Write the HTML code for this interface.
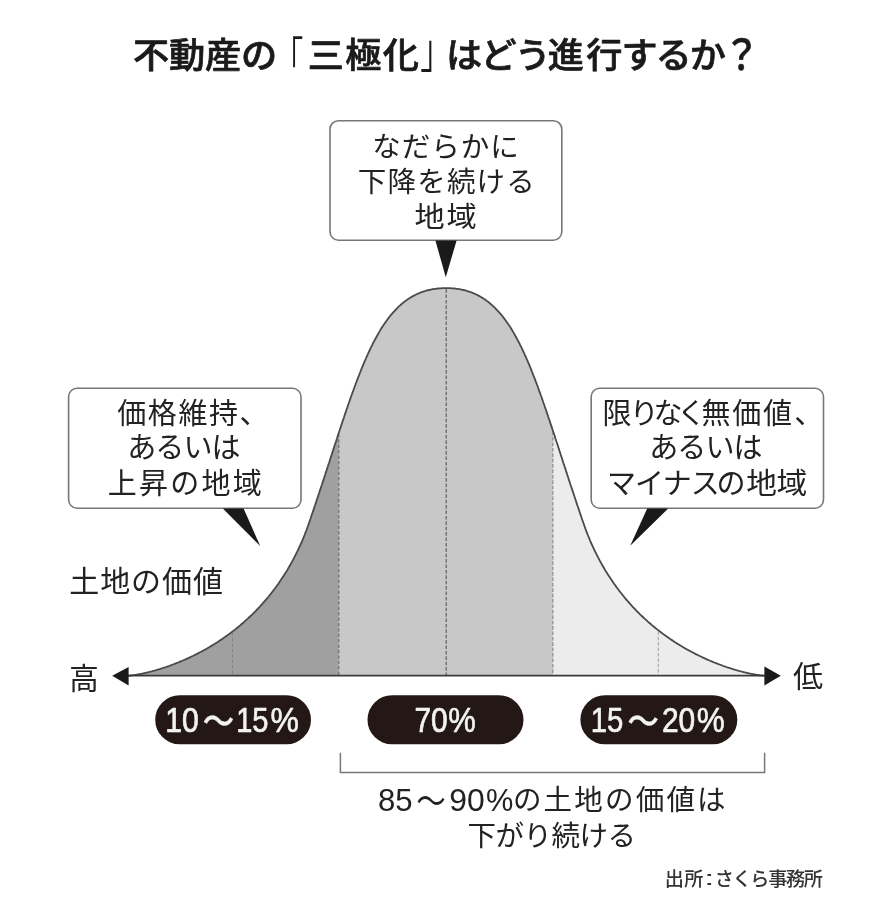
<!DOCTYPE html>
<html lang="ja">
<head>
<meta charset="utf-8">
<title>不動産の「三極化」はどう進行するか？</title>
<style>
html,body{margin:0;padding:0;background:#fff;}
body{width:887px;height:906px;overflow:hidden;}
svg{display:block;}
svg text{font-family:'Liberation Sans','Noto Sans CJK JP',sans-serif;white-space:pre;}
</style>
</head>
<body>
<svg width="887" height="906" viewBox="0 0 887 906">
<rect width="887" height="906" fill="#fff"/>
<g id="art" style="filter:blur(0.55px)">
<polygon points="128.0,675.7 128.2,675.7 128.3,675.7 128.5,675.7 128.8,675.7 129.0,675.7 129.2,675.6 129.5,675.6 129.8,675.6 130.1,675.6 130.4,675.5 130.7,675.5 131.1,675.5 131.4,675.4 131.8,675.4 132.2,675.3 132.6,675.3 133.0,675.2 133.5,675.2 133.9,675.1 134.4,675.0 134.9,675.0 135.4,674.9 135.9,674.8 136.4,674.7 136.9,674.6 137.5,674.5 138.0,674.4 138.6,674.3 139.2,674.2 139.8,674.1 140.4,674.0 141.0,673.8 141.7,673.7 142.3,673.6 143.0,673.4 143.7,673.3 144.4,673.1 145.1,673.0 145.8,672.8 146.5,672.6 147.3,672.4 148.0,672.3 148.8,672.1 149.5,671.9 150.3,671.7 151.1,671.5 151.9,671.3 152.7,671.0 153.5,670.8 154.4,670.6 155.2,670.4 156.1,670.1 156.9,669.9 157.8,669.6 158.7,669.3 159.6,669.1 160.5,668.8 161.4,668.5 162.3,668.2 163.2,667.9 164.2,667.6 165.1,667.3 166.1,667.0 167.0,666.6 168.0,666.3 169.0,666.0 170.0,665.6 170.9,665.2 171.9,664.9 172.9,664.5 174.0,664.1 175.0,663.7 176.0,663.3 177.0,662.9 178.1,662.5 179.1,662.1 180.2,661.6 181.2,661.2 182.3,660.8 183.4,660.3 184.4,659.8 185.5,659.4 186.6,658.9 187.7,658.4 188.8,657.9 189.9,657.4 191.0,656.8 192.1,656.3 193.2,655.8 194.3,655.2 195.5,654.7 196.6,654.1 197.7,653.5 198.8,652.9 200.0,652.3 201.1,651.7 202.3,651.1 203.4,650.5 204.6,649.9 205.7,649.2 206.9,648.6 208.0,647.9 209.2,647.2 210.3,646.5 211.5,645.8 212.7,645.1 213.8,644.4 215.0,643.7 216.2,642.9 217.4,642.2 218.5,641.4 219.7,640.6 220.9,639.9 222.1,639.1 223.2,638.3 224.4,637.4 225.6,636.6 226.8,635.8 227.9,634.9 229.1,634.1 230.3,633.2 231.5,632.3 232.6,631.4 233.8,630.5 235.0,629.6 236.2,628.6 237.3,627.7 238.5,626.7 239.7,625.8 240.8,624.8 242.0,623.8 243.2,622.8 244.3,621.8 245.5,620.7 246.6,619.7 247.8,618.6 248.9,617.5 250.1,616.5 251.2,615.4 252.4,614.3 253.5,613.1 254.7,612.0 255.8,610.9 256.9,609.7 258.0,608.5 259.2,607.3 260.3,606.1 261.4,604.9 262.5,603.7 263.6,602.4 264.7,601.2 265.8,599.9 266.9,598.6 268.0,597.3 269.0,596.0 270.1,594.7 271.2,593.3 272.2,592.0 273.3,590.6 274.3,589.2 275.4,587.8 276.4,586.4 277.4,585.0 278.5,583.6 279.5,582.1 280.5,580.6 281.5,579.1 282.5,577.6 283.5,576.1 284.5,574.6 285.4,573.0 286.4,571.5 287.4,569.9 288.3,568.3 289.2,566.7 290.2,565.1 291.1,563.4 292.0,561.8 292.9,560.1 293.8,558.4 294.7,556.7 295.6,555.0 296.4,553.2 297.3,551.5 298.2,549.7 299.0,547.9 299.8,546.1 300.6,544.3 301.5,542.5 302.3,540.6 303.0,538.8 303.8,536.9 304.6,535.0 305.3,533.1 306.1,531.1 306.8,529.2 307.5,527.2 308.2,525.2 308.9,523.2 309.7,521.0 310.5,518.8 311.2,516.6 311.9,514.4 312.7,512.2 313.4,510.1 314.1,507.9 314.9,505.7 315.6,503.6 316.3,501.5 317.0,499.3 317.7,497.2 318.4,495.1 319.1,493.0 319.8,490.9 320.5,488.9 321.2,486.8 321.9,484.7 322.5,482.7 323.2,480.6 323.9,478.6 324.5,476.6 325.2,474.6 325.8,472.6 326.5,470.6 327.1,468.6 327.8,466.6 328.4,464.6 329.1,462.7 329.7,460.7 330.3,458.8 330.9,456.9 331.6,455.0 332.2,453.1 332.8,451.2 333.4,449.3 334.0,447.4 334.6,445.5 335.2,443.7 335.9,441.8 336.5,440.0 337.1,438.2 337.6,436.3 338.2,434.5 338.8,432.8 338.8,675.7 128.0,675.7" fill="#a0a0a0"/>
<polygon points="338.8,432.8 338.8,432.7 339.4,431.0 340.0,429.2 340.6,427.4 341.2,425.6 341.8,423.9 342.3,422.2 342.9,420.4 343.5,418.7 344.1,417.0 344.6,415.3 345.2,413.6 345.8,411.9 346.3,410.3 346.9,408.6 347.5,407.0 348.0,405.3 348.6,403.7 349.2,402.1 349.7,400.5 350.3,398.9 350.8,397.3 351.4,395.7 351.9,394.2 352.5,392.6 353.1,391.1 353.6,389.6 354.2,388.0 354.7,386.5 355.3,385.0 355.8,383.5 356.4,382.1 356.9,380.6 357.5,379.1 358.1,377.7 358.6,376.3 359.2,374.8 359.7,373.4 360.3,372.0 360.8,370.6 361.4,369.2 361.9,367.9 362.5,366.5 363.1,365.2 363.6,363.8 364.2,362.5 364.7,361.2 365.3,359.9 365.9,358.6 366.4,357.3 367.0,356.0 367.6,354.8 368.1,353.5 368.7,352.3 369.3,351.0 369.8,349.8 370.4,348.6 371.0,347.4 371.6,346.2 372.2,345.1 372.7,343.9 373.3,342.7 373.9,341.6 374.5,340.5 375.1,339.4 375.7,338.3 376.3,337.2 376.9,336.1 377.5,335.0 378.1,334.0 378.7,332.9 379.3,331.9 379.9,330.9 380.5,329.8 381.1,328.8 381.7,327.8 382.4,326.9 383.0,325.9 383.6,324.9 384.3,324.0 384.9,323.1 385.5,322.2 386.2,321.2 386.8,320.4 387.5,319.5 388.1,318.6 388.8,317.7 389.4,316.9 390.1,316.0 390.8,315.2 391.4,314.4 392.1,313.6 392.8,312.8 393.5,312.0 394.2,311.3 394.9,310.5 395.6,309.8 396.3,309.0 397.0,308.3 397.7,307.6 398.4,306.9 399.1,306.3 399.9,305.6 400.6,304.9 401.3,304.3 402.1,303.7 402.8,303.0 403.6,302.4 404.3,301.8 405.1,301.2 405.9,300.7 406.6,300.1 407.4,299.6 408.2,299.0 409.0,298.5 409.8,298.0 410.6,297.5 411.4,297.0 412.2,296.6 413.0,296.1 413.9,295.6 414.7,295.2 415.5,294.8 416.4,294.4 417.2,294.0 418.1,293.6 419.0,293.2 419.8,292.9 420.7,292.5 421.6,292.2 422.5,291.9 423.4,291.6 424.3,291.3 425.2,291.0 426.1,290.7 427.1,290.5 428.0,290.2 429.0,290.0 429.9,289.8 430.9,289.6 431.8,289.4 432.8,289.2 433.8,289.1 434.8,288.9 435.8,288.8 436.8,288.6 437.8,288.5 438.8,288.4 439.8,288.3 440.9,288.3 441.9,288.2 443.0,288.2 444.0,288.1 445.1,288.1 446.2,288.1 447.3,288.1 448.4,288.1 449.4,288.2 450.5,288.2 451.5,288.3 452.6,288.3 453.6,288.4 454.6,288.5 455.6,288.6 456.6,288.8 457.6,288.9 458.6,289.1 459.6,289.2 460.6,289.4 461.5,289.6 462.5,289.8 463.4,290.0 464.4,290.2 465.3,290.5 466.3,290.7 467.2,291.0 468.1,291.3 469.0,291.6 469.9,291.9 470.8,292.2 471.7,292.5 472.6,292.9 473.4,293.2 474.3,293.6 475.2,294.0 476.0,294.4 476.9,294.8 477.7,295.2 478.5,295.6 479.4,296.1 480.2,296.6 481.0,297.0 481.8,297.5 482.6,298.0 483.4,298.5 484.2,299.0 485.0,299.6 485.8,300.1 486.5,300.7 487.3,301.2 488.1,301.8 488.8,302.4 489.6,303.0 490.3,303.7 491.1,304.3 491.8,304.9 492.5,305.6 493.3,306.3 494.0,306.9 494.7,307.6 495.4,308.3 496.1,309.0 496.8,309.8 497.5,310.5 498.2,311.3 498.9,312.0 499.6,312.8 500.3,313.6 501.0,314.4 501.6,315.2 502.3,316.0 503.0,316.9 503.6,317.7 504.3,318.6 504.9,319.5 505.6,320.4 506.2,321.2 506.9,322.2 507.5,323.1 508.1,324.0 508.8,324.9 509.4,325.9 510.0,326.9 510.7,327.8 511.3,328.8 511.9,329.8 512.5,330.9 513.1,331.9 513.7,332.9 514.3,334.0 514.9,335.0 515.5,336.1 516.1,337.2 516.7,338.3 517.3,339.4 517.9,340.5 518.5,341.6 519.1,342.7 519.7,343.9 520.2,345.1 520.8,346.2 521.4,347.4 522.0,348.6 522.6,349.8 523.1,351.0 523.7,352.3 524.3,353.5 524.8,354.8 525.4,356.0 526.0,357.3 526.5,358.6 527.1,359.9 527.7,361.2 528.2,362.5 528.8,363.8 529.3,365.2 529.9,366.5 530.5,367.9 531.0,369.2 531.6,370.6 532.1,372.0 532.7,373.4 533.2,374.8 533.8,376.3 534.3,377.7 534.9,379.1 535.5,380.6 536.0,382.1 536.6,383.5 537.1,385.0 537.7,386.5 538.2,388.0 538.8,389.6 539.3,391.1 539.9,392.6 540.5,394.2 541.0,395.7 541.6,397.3 542.1,398.9 542.7,400.5 543.2,402.1 543.8,403.7 544.4,405.3 544.9,407.0 545.5,408.6 546.1,410.3 546.6,411.9 547.2,413.6 547.8,415.3 548.3,417.0 548.9,418.7 549.5,420.4 550.1,422.2 550.6,423.9 551.2,425.6 551.8,427.4 552.4,429.2 552.9,430.7 552.9,675.7 338.8,675.7" fill="#c8c8c9"/>
<polygon points="552.9,430.7 553.0,431.0 553.6,432.7 554.2,434.5 554.8,436.3 555.3,438.2 555.9,440.0 556.5,441.8 557.2,443.7 557.8,445.5 558.4,447.4 559.0,449.3 559.6,451.2 560.2,453.1 560.8,455.0 561.5,456.9 562.1,458.8 562.7,460.7 563.3,462.7 564.0,464.6 564.6,466.6 565.3,468.6 565.9,470.6 566.6,472.6 567.2,474.6 567.9,476.6 568.5,478.6 569.2,480.6 569.9,482.7 570.5,484.7 571.2,486.8 571.9,488.9 572.6,490.9 573.3,493.0 574.0,495.1 574.7,497.2 575.4,499.3 576.1,501.5 576.8,503.6 577.5,505.7 578.3,507.9 579.0,510.1 579.7,512.2 580.5,514.4 581.2,516.6 581.9,518.8 582.7,521.0 583.5,523.2 584.2,525.2 584.9,527.2 585.6,529.2 586.3,531.1 587.1,533.1 587.8,535.0 588.6,536.9 589.4,538.8 590.1,540.6 590.9,542.5 591.8,544.3 592.6,546.1 593.4,547.9 594.2,549.7 595.1,551.5 596.0,553.2 596.8,555.0 597.7,556.7 598.6,558.4 599.5,560.1 600.4,561.8 601.3,563.4 602.2,565.1 603.2,566.7 604.1,568.3 605.0,569.9 606.0,571.5 607.0,573.0 607.9,574.6 608.9,576.1 609.9,577.6 610.9,579.1 611.9,580.6 612.9,582.1 613.9,583.6 615.0,585.0 616.0,586.4 617.0,587.8 618.1,589.2 619.1,590.6 620.2,592.0 621.2,593.3 622.3,594.7 623.4,596.0 624.4,597.3 625.5,598.6 626.6,599.9 627.7,601.2 628.8,602.4 629.9,603.7 631.0,604.9 632.1,606.1 633.2,607.3 634.4,608.5 635.5,609.7 636.6,610.9 637.7,612.0 638.9,613.1 640.0,614.3 641.2,615.4 642.3,616.5 643.5,617.5 644.6,618.6 645.8,619.7 646.9,620.7 648.1,621.8 649.2,622.8 650.4,623.8 651.6,624.8 652.7,625.8 653.9,626.7 655.1,627.7 656.2,628.6 657.4,629.6 658.6,630.5 659.8,631.4 660.9,632.3 662.1,633.2 663.3,634.1 664.5,634.9 665.6,635.8 666.8,636.6 668.0,637.4 669.2,638.3 670.3,639.1 671.5,639.9 672.7,640.6 673.9,641.4 675.0,642.2 676.2,642.9 677.4,643.7 678.6,644.4 679.7,645.1 680.9,645.8 682.1,646.5 683.2,647.2 684.4,647.9 685.5,648.6 686.7,649.2 687.8,649.9 689.0,650.5 690.1,651.1 691.3,651.7 692.4,652.3 693.6,652.9 694.7,653.5 695.8,654.1 696.9,654.7 698.1,655.2 699.2,655.8 700.3,656.3 701.4,656.8 702.5,657.4 703.6,657.9 704.7,658.4 705.8,658.9 706.9,659.4 708.0,659.8 709.0,660.3 710.1,660.8 711.2,661.2 712.2,661.6 713.3,662.1 714.3,662.5 715.4,662.9 716.4,663.3 717.4,663.7 718.4,664.1 719.5,664.5 720.5,664.9 721.5,665.2 722.4,665.6 723.4,666.0 724.4,666.3 725.4,666.6 726.3,667.0 727.3,667.3 728.2,667.6 729.2,667.9 730.1,668.2 731.0,668.5 731.9,668.8 732.8,669.1 733.7,669.3 734.6,669.6 735.5,669.9 736.3,670.1 737.2,670.4 738.0,670.6 738.9,670.8 739.7,671.0 740.5,671.3 741.3,671.5 742.1,671.7 742.9,671.9 743.6,672.1 744.4,672.3 745.1,672.4 745.9,672.6 746.6,672.8 747.3,673.0 748.0,673.1 748.7,673.3 749.4,673.4 750.1,673.6 750.7,673.7 751.4,673.8 752.0,674.0 752.6,674.1 753.2,674.2 753.8,674.3 754.4,674.4 754.9,674.5 755.5,674.6 756.0,674.7 756.5,674.8 757.0,674.9 757.5,675.0 758.0,675.0 758.5,675.1 758.9,675.2 759.4,675.2 759.8,675.3 760.2,675.3 760.6,675.4 761.0,675.4 761.3,675.5 761.7,675.5 762.0,675.5 762.3,675.6 762.6,675.6 762.9,675.6 763.2,675.6 763.4,675.7 763.6,675.7 763.9,675.7 764.1,675.7 764.2,675.7 764.4,675.7 764.4,675.7 552.9,675.7" fill="#ececec"/>
<line x1="232.5" y1="632.5" x2="232.5" y2="675.7" stroke="#858585" stroke-width="1.15" stroke-dasharray="3.6 1.8"/>
<line x1="338.8" y1="433.8" x2="338.8" y2="675.7" stroke="#6a6a6a" stroke-width="1.15" stroke-dasharray="3.6 1.8"/>
<line x1="446.2" y1="289.1" x2="446.2" y2="675.7" stroke="#5a5a5a" stroke-width="1.15" stroke-dasharray="3.6 1.8"/>
<line x1="552.9" y1="431.7" x2="552.9" y2="675.7" stroke="#8a8a8a" stroke-width="1.15" stroke-dasharray="3.6 1.8"/>
<line x1="658.3" y1="631.3" x2="658.3" y2="675.7" stroke="#a8a8a8" stroke-width="1.15" stroke-dasharray="3.6 1.8"/>
<polyline points="128.0,675.7 128.2,675.7 128.3,675.7 128.5,675.7 128.8,675.7 129.0,675.7 129.2,675.6 129.5,675.6 129.8,675.6 130.1,675.6 130.4,675.5 130.7,675.5 131.1,675.5 131.4,675.4 131.8,675.4 132.2,675.3 132.6,675.3 133.0,675.2 133.5,675.2 133.9,675.1 134.4,675.0 134.9,675.0 135.4,674.9 135.9,674.8 136.4,674.7 136.9,674.6 137.5,674.5 138.0,674.4 138.6,674.3 139.2,674.2 139.8,674.1 140.4,674.0 141.0,673.8 141.7,673.7 142.3,673.6 143.0,673.4 143.7,673.3 144.4,673.1 145.1,673.0 145.8,672.8 146.5,672.6 147.3,672.4 148.0,672.3 148.8,672.1 149.5,671.9 150.3,671.7 151.1,671.5 151.9,671.3 152.7,671.0 153.5,670.8 154.4,670.6 155.2,670.4 156.1,670.1 156.9,669.9 157.8,669.6 158.7,669.3 159.6,669.1 160.5,668.8 161.4,668.5 162.3,668.2 163.2,667.9 164.2,667.6 165.1,667.3 166.1,667.0 167.0,666.6 168.0,666.3 169.0,666.0 170.0,665.6 170.9,665.2 171.9,664.9 172.9,664.5 174.0,664.1 175.0,663.7 176.0,663.3 177.0,662.9 178.1,662.5 179.1,662.1 180.2,661.6 181.2,661.2 182.3,660.8 183.4,660.3 184.4,659.8 185.5,659.4 186.6,658.9 187.7,658.4 188.8,657.9 189.9,657.4 191.0,656.8 192.1,656.3 193.2,655.8 194.3,655.2 195.5,654.7 196.6,654.1 197.7,653.5 198.8,652.9 200.0,652.3 201.1,651.7 202.3,651.1 203.4,650.5 204.6,649.9 205.7,649.2 206.9,648.6 208.0,647.9 209.2,647.2 210.3,646.5 211.5,645.8 212.7,645.1 213.8,644.4 215.0,643.7 216.2,642.9 217.4,642.2 218.5,641.4 219.7,640.6 220.9,639.9 222.1,639.1 223.2,638.3 224.4,637.4 225.6,636.6 226.8,635.8 227.9,634.9 229.1,634.1 230.3,633.2 231.5,632.3 232.6,631.4 233.8,630.5 235.0,629.6 236.2,628.6 237.3,627.7 238.5,626.7 239.7,625.8 240.8,624.8 242.0,623.8 243.2,622.8 244.3,621.8 245.5,620.7 246.6,619.7 247.8,618.6 248.9,617.5 250.1,616.5 251.2,615.4 252.4,614.3 253.5,613.1 254.7,612.0 255.8,610.9 256.9,609.7 258.0,608.5 259.2,607.3 260.3,606.1 261.4,604.9 262.5,603.7 263.6,602.4 264.7,601.2 265.8,599.9 266.9,598.6 268.0,597.3 269.0,596.0 270.1,594.7 271.2,593.3 272.2,592.0 273.3,590.6 274.3,589.2 275.4,587.8 276.4,586.4 277.4,585.0 278.5,583.6 279.5,582.1 280.5,580.6 281.5,579.1 282.5,577.6 283.5,576.1 284.5,574.6 285.4,573.0 286.4,571.5 287.4,569.9 288.3,568.3 289.2,566.7 290.2,565.1 291.1,563.4 292.0,561.8 292.9,560.1 293.8,558.4 294.7,556.7 295.6,555.0 296.4,553.2 297.3,551.5 298.2,549.7 299.0,547.9 299.8,546.1 300.6,544.3 301.5,542.5 302.3,540.6 303.0,538.8 303.8,536.9 304.6,535.0 305.3,533.1 306.1,531.1 306.8,529.2 307.5,527.2 308.2,525.2 308.9,523.2 309.7,521.0 310.5,518.8 311.2,516.6 311.9,514.4 312.7,512.2 313.4,510.1 314.1,507.9 314.9,505.7 315.6,503.6 316.3,501.5 317.0,499.3 317.7,497.2 318.4,495.1 319.1,493.0 319.8,490.9 320.5,488.9 321.2,486.8 321.9,484.7 322.5,482.7 323.2,480.6 323.9,478.6 324.5,476.6 325.2,474.6 325.8,472.6 326.5,470.6 327.1,468.6 327.8,466.6 328.4,464.6 329.1,462.7 329.7,460.7 330.3,458.8 330.9,456.9 331.6,455.0 332.2,453.1 332.8,451.2 333.4,449.3 334.0,447.4 334.6,445.5 335.2,443.7 335.9,441.8 336.5,440.0 337.1,438.2 337.6,436.3 338.2,434.5 338.8,432.7 339.4,431.0 340.0,429.2 340.6,427.4 341.2,425.6 341.8,423.9 342.3,422.2 342.9,420.4 343.5,418.7 344.1,417.0 344.6,415.3 345.2,413.6 345.8,411.9 346.3,410.3 346.9,408.6 347.5,407.0 348.0,405.3 348.6,403.7 349.2,402.1 349.7,400.5 350.3,398.9 350.8,397.3 351.4,395.7 351.9,394.2 352.5,392.6 353.1,391.1 353.6,389.6 354.2,388.0 354.7,386.5 355.3,385.0 355.8,383.5 356.4,382.1 356.9,380.6 357.5,379.1 358.1,377.7 358.6,376.3 359.2,374.8 359.7,373.4 360.3,372.0 360.8,370.6 361.4,369.2 361.9,367.9 362.5,366.5 363.1,365.2 363.6,363.8 364.2,362.5 364.7,361.2 365.3,359.9 365.9,358.6 366.4,357.3 367.0,356.0 367.6,354.8 368.1,353.5 368.7,352.3 369.3,351.0 369.8,349.8 370.4,348.6 371.0,347.4 371.6,346.2 372.2,345.1 372.7,343.9 373.3,342.7 373.9,341.6 374.5,340.5 375.1,339.4 375.7,338.3 376.3,337.2 376.9,336.1 377.5,335.0 378.1,334.0 378.7,332.9 379.3,331.9 379.9,330.9 380.5,329.8 381.1,328.8 381.7,327.8 382.4,326.9 383.0,325.9 383.6,324.9 384.3,324.0 384.9,323.1 385.5,322.2 386.2,321.2 386.8,320.4 387.5,319.5 388.1,318.6 388.8,317.7 389.4,316.9 390.1,316.0 390.8,315.2 391.4,314.4 392.1,313.6 392.8,312.8 393.5,312.0 394.2,311.3 394.9,310.5 395.6,309.8 396.3,309.0 397.0,308.3 397.7,307.6 398.4,306.9 399.1,306.3 399.9,305.6 400.6,304.9 401.3,304.3 402.1,303.7 402.8,303.0 403.6,302.4 404.3,301.8 405.1,301.2 405.9,300.7 406.6,300.1 407.4,299.6 408.2,299.0 409.0,298.5 409.8,298.0 410.6,297.5 411.4,297.0 412.2,296.6 413.0,296.1 413.9,295.6 414.7,295.2 415.5,294.8 416.4,294.4 417.2,294.0 418.1,293.6 419.0,293.2 419.8,292.9 420.7,292.5 421.6,292.2 422.5,291.9 423.4,291.6 424.3,291.3 425.2,291.0 426.1,290.7 427.1,290.5 428.0,290.2 429.0,290.0 429.9,289.8 430.9,289.6 431.8,289.4 432.8,289.2 433.8,289.1 434.8,288.9 435.8,288.8 436.8,288.6 437.8,288.5 438.8,288.4 439.8,288.3 440.9,288.3 441.9,288.2 443.0,288.2 444.0,288.1 445.1,288.1 446.2,288.1 447.3,288.1 448.4,288.1 449.4,288.2 450.5,288.2 451.5,288.3 452.6,288.3 453.6,288.4 454.6,288.5 455.6,288.6 456.6,288.8 457.6,288.9 458.6,289.1 459.6,289.2 460.6,289.4 461.5,289.6 462.5,289.8 463.4,290.0 464.4,290.2 465.3,290.5 466.3,290.7 467.2,291.0 468.1,291.3 469.0,291.6 469.9,291.9 470.8,292.2 471.7,292.5 472.6,292.9 473.4,293.2 474.3,293.6 475.2,294.0 476.0,294.4 476.9,294.8 477.7,295.2 478.5,295.6 479.4,296.1 480.2,296.6 481.0,297.0 481.8,297.5 482.6,298.0 483.4,298.5 484.2,299.0 485.0,299.6 485.8,300.1 486.5,300.7 487.3,301.2 488.1,301.8 488.8,302.4 489.6,303.0 490.3,303.7 491.1,304.3 491.8,304.9 492.5,305.6 493.3,306.3 494.0,306.9 494.7,307.6 495.4,308.3 496.1,309.0 496.8,309.8 497.5,310.5 498.2,311.3 498.9,312.0 499.6,312.8 500.3,313.6 501.0,314.4 501.6,315.2 502.3,316.0 503.0,316.9 503.6,317.7 504.3,318.6 504.9,319.5 505.6,320.4 506.2,321.2 506.9,322.2 507.5,323.1 508.1,324.0 508.8,324.9 509.4,325.9 510.0,326.9 510.7,327.8 511.3,328.8 511.9,329.8 512.5,330.9 513.1,331.9 513.7,332.9 514.3,334.0 514.9,335.0 515.5,336.1 516.1,337.2 516.7,338.3 517.3,339.4 517.9,340.5 518.5,341.6 519.1,342.7 519.7,343.9 520.2,345.1 520.8,346.2 521.4,347.4 522.0,348.6 522.6,349.8 523.1,351.0 523.7,352.3 524.3,353.5 524.8,354.8 525.4,356.0 526.0,357.3 526.5,358.6 527.1,359.9 527.7,361.2 528.2,362.5 528.8,363.8 529.3,365.2 529.9,366.5 530.5,367.9 531.0,369.2 531.6,370.6 532.1,372.0 532.7,373.4 533.2,374.8 533.8,376.3 534.3,377.7 534.9,379.1 535.5,380.6 536.0,382.1 536.6,383.5 537.1,385.0 537.7,386.5 538.2,388.0 538.8,389.6 539.3,391.1 539.9,392.6 540.5,394.2 541.0,395.7 541.6,397.3 542.1,398.9 542.7,400.5 543.2,402.1 543.8,403.7 544.4,405.3 544.9,407.0 545.5,408.6 546.1,410.3 546.6,411.9 547.2,413.6 547.8,415.3 548.3,417.0 548.9,418.7 549.5,420.4 550.1,422.2 550.6,423.9 551.2,425.6 551.8,427.4 552.4,429.2 553.0,431.0 553.6,432.7 554.2,434.5 554.8,436.3 555.3,438.2 555.9,440.0 556.5,441.8 557.2,443.7 557.8,445.5 558.4,447.4 559.0,449.3 559.6,451.2 560.2,453.1 560.8,455.0 561.5,456.9 562.1,458.8 562.7,460.7 563.3,462.7 564.0,464.6 564.6,466.6 565.3,468.6 565.9,470.6 566.6,472.6 567.2,474.6 567.9,476.6 568.5,478.6 569.2,480.6 569.9,482.7 570.5,484.7 571.2,486.8 571.9,488.9 572.6,490.9 573.3,493.0 574.0,495.1 574.7,497.2 575.4,499.3 576.1,501.5 576.8,503.6 577.5,505.7 578.3,507.9 579.0,510.1 579.7,512.2 580.5,514.4 581.2,516.6 581.9,518.8 582.7,521.0 583.5,523.2 584.2,525.2 584.9,527.2 585.6,529.2 586.3,531.1 587.1,533.1 587.8,535.0 588.6,536.9 589.4,538.8 590.1,540.6 590.9,542.5 591.8,544.3 592.6,546.1 593.4,547.9 594.2,549.7 595.1,551.5 596.0,553.2 596.8,555.0 597.7,556.7 598.6,558.4 599.5,560.1 600.4,561.8 601.3,563.4 602.2,565.1 603.2,566.7 604.1,568.3 605.0,569.9 606.0,571.5 607.0,573.0 607.9,574.6 608.9,576.1 609.9,577.6 610.9,579.1 611.9,580.6 612.9,582.1 613.9,583.6 615.0,585.0 616.0,586.4 617.0,587.8 618.1,589.2 619.1,590.6 620.2,592.0 621.2,593.3 622.3,594.7 623.4,596.0 624.4,597.3 625.5,598.6 626.6,599.9 627.7,601.2 628.8,602.4 629.9,603.7 631.0,604.9 632.1,606.1 633.2,607.3 634.4,608.5 635.5,609.7 636.6,610.9 637.7,612.0 638.9,613.1 640.0,614.3 641.2,615.4 642.3,616.5 643.5,617.5 644.6,618.6 645.8,619.7 646.9,620.7 648.1,621.8 649.2,622.8 650.4,623.8 651.6,624.8 652.7,625.8 653.9,626.7 655.1,627.7 656.2,628.6 657.4,629.6 658.6,630.5 659.8,631.4 660.9,632.3 662.1,633.2 663.3,634.1 664.5,634.9 665.6,635.8 666.8,636.6 668.0,637.4 669.2,638.3 670.3,639.1 671.5,639.9 672.7,640.6 673.9,641.4 675.0,642.2 676.2,642.9 677.4,643.7 678.6,644.4 679.7,645.1 680.9,645.8 682.1,646.5 683.2,647.2 684.4,647.9 685.5,648.6 686.7,649.2 687.8,649.9 689.0,650.5 690.1,651.1 691.3,651.7 692.4,652.3 693.6,652.9 694.7,653.5 695.8,654.1 696.9,654.7 698.1,655.2 699.2,655.8 700.3,656.3 701.4,656.8 702.5,657.4 703.6,657.9 704.7,658.4 705.8,658.9 706.9,659.4 708.0,659.8 709.0,660.3 710.1,660.8 711.2,661.2 712.2,661.6 713.3,662.1 714.3,662.5 715.4,662.9 716.4,663.3 717.4,663.7 718.4,664.1 719.5,664.5 720.5,664.9 721.5,665.2 722.4,665.6 723.4,666.0 724.4,666.3 725.4,666.6 726.3,667.0 727.3,667.3 728.2,667.6 729.2,667.9 730.1,668.2 731.0,668.5 731.9,668.8 732.8,669.1 733.7,669.3 734.6,669.6 735.5,669.9 736.3,670.1 737.2,670.4 738.0,670.6 738.9,670.8 739.7,671.0 740.5,671.3 741.3,671.5 742.1,671.7 742.9,671.9 743.6,672.1 744.4,672.3 745.1,672.4 745.9,672.6 746.6,672.8 747.3,673.0 748.0,673.1 748.7,673.3 749.4,673.4 750.1,673.6 750.7,673.7 751.4,673.8 752.0,674.0 752.6,674.1 753.2,674.2 753.8,674.3 754.4,674.4 754.9,674.5 755.5,674.6 756.0,674.7 756.5,674.8 757.0,674.9 757.5,675.0 758.0,675.0 758.5,675.1 758.9,675.2 759.4,675.2 759.8,675.3 760.2,675.3 760.6,675.4 761.0,675.4 761.3,675.5 761.7,675.5 762.0,675.5 762.3,675.6 762.6,675.6 762.9,675.6 763.2,675.6 763.4,675.7 763.6,675.7 763.9,675.7 764.1,675.7 764.2,675.7 764.4,675.7" fill="none" stroke="#4a4a4a" stroke-width="1.8" stroke-linejoin="round"/>
<line x1="126" y1="675.7" x2="767" y2="675.7" stroke="#3a3a3a" stroke-width="1.8"/>
<polygon points="112.2,675.7 128.6,667.0 128.6,685.6" fill="#1a1a1a"/>
<polygon points="780.8,675.7 764.4,666.6 764.4,685.4" fill="#1a1a1a"/>
<rect x="330.0" y="120.7" width="231.79999999999995" height="119.49999999999999" rx="8.5" ry="8.5" fill="#fff" stroke="#777" stroke-width="1.6"/>
<polygon points="435.4,240.6 456.6,240.6 445.8,277.2" fill="#1a1a1a"/>
<rect x="68.6" y="388.3" width="232.4" height="119.89999999999998" rx="8.5" ry="8.5" fill="#fff" stroke="#777" stroke-width="1.6"/>
<polygon points="222.8,508.6 243.6,508.6 260.2,546.0" fill="#1a1a1a"/>
<rect x="591.2" y="388.3" width="232.29999999999995" height="119.89999999999998" rx="8.5" ry="8.5" fill="#fff" stroke="#777" stroke-width="1.6"/>
<polygon points="647.2,508.6 668.2,508.6 630.2,545.8" fill="#1a1a1a"/>
<rect x="155.2" y="695.2" width="155.8" height="49.09999999999991" rx="24.549999999999955" ry="24.549999999999955" fill="#231815"/>
<rect x="367.5" y="695.2" width="156.0" height="49.09999999999991" rx="24.549999999999955" ry="24.549999999999955" fill="#231815"/>
<rect x="580.4" y="695.2" width="156.89999999999998" height="49.09999999999991" rx="24.549999999999955" ry="24.549999999999955" fill="#231815"/>
<polyline points="340.4,752.8 340.4,772.4 764.6,772.4 764.6,752.8" fill="none" stroke="#777" stroke-width="1.5"/>
<g style="filter:grayscale(1)">
<text transform="translate(132.95 67.80) scale(1.035 1.000)" font-size="35.00" font-weight="500" fill="#1a1a1a" stroke="#1a1a1a" stroke-width="0.7" stroke-linejoin="round" letter-spacing="-0.21">不動産の</text>
<text transform="translate(274.12 76.26) scale(0.815 1.286)" font-size="36.00" font-weight="350" fill="#1a1a1a">「</text>
<text transform="translate(307.73 67.80) scale(1.035 1.000)" font-size="35.00" font-weight="500" fill="#1a1a1a" stroke="#1a1a1a" stroke-width="0.7" stroke-linejoin="round" letter-spacing="1.20">三極化</text>
<text transform="translate(420.22 67.36) scale(0.887 1.308)" font-size="36.00" font-weight="350" fill="#1a1a1a">」</text>
<text transform="translate(445.92 67.80) scale(1.035 1.000)" font-size="35.00" font-weight="500" fill="#1a1a1a" stroke="#1a1a1a" stroke-width="0.7" stroke-linejoin="round" letter-spacing="-1.69">はどう</text>
<text transform="translate(547.65 67.80) scale(1.035 1.000)" font-size="35.00" font-weight="500" fill="#1a1a1a" stroke="#1a1a1a" stroke-width="0.7" stroke-linejoin="round" letter-spacing="2.27">進行</text>
<text transform="translate(621.54 67.80) scale(1.035 1.000)" font-size="35.00" font-weight="500" fill="#1a1a1a" stroke="#1a1a1a" stroke-width="0.7" stroke-linejoin="round" letter-spacing="-2.09">するか</text>
<text transform="translate(722.90 69.58) scale(0.930 1.039)" font-size="40.00" font-weight="500" fill="#1a1a1a" stroke="#1a1a1a" stroke-width="0.5" stroke-linejoin="round">？</text>
<text x="372.15" y="156.83" font-size="28.50" font-weight="400" fill="#222" letter-spacing="1.02">なだらかに</text>
<text x="357.79" y="192.17" font-size="28.50" font-weight="400" fill="#222" letter-spacing="1.20">下降を続ける</text>
<text transform="translate(414.59 227.33) scale(1.060 1.000)" font-size="28.50" font-weight="400" fill="#222" letter-spacing="1.70">地域</text>
<text x="117.22" y="423.90" font-size="29.00" font-weight="400" fill="#222" letter-spacing="1.58">価格維持、</text>
<text x="127.31" y="458.27" font-size="29.00" font-weight="400" fill="#222" letter-spacing="-0.95">あるいは</text>
<text x="107.85" y="494.10" font-size="29.00" font-weight="400" fill="#222" letter-spacing="2.25">上昇の地域</text>
<text x="602.58" y="423.60" font-size="29.00" font-weight="400" fill="#222">限</text>
<text x="629.81" y="423.60" font-size="29.00" font-weight="400" fill="#222" letter-spacing="-5.40">りなく</text>
<text x="701.45" y="423.60" font-size="29.00" font-weight="400" fill="#222" letter-spacing="1.80">無価値</text>
<text x="794.16" y="423.60" font-size="29.00" font-weight="400" fill="#222">、</text>
<text x="649.31" y="458.27" font-size="29.00" font-weight="400" fill="#222" letter-spacing="-0.95">あるいは</text>
<text x="607.00" y="494.10" font-size="29.00" font-weight="400" fill="#222" letter-spacing="-0.88">マイナス</text>
<text x="716.39" y="494.10" font-size="29.00" font-weight="400" fill="#222">の</text>
<text transform="translate(746.37 494.10) scale(1.060 1.000)" font-size="29.00" font-weight="400" fill="#222" letter-spacing="-0.68">地域</text>
<text x="69.20" y="592.40" font-size="30.00" font-weight="400" fill="#222" letter-spacing="0.95">土地の価値</text>
<text x="69.34" y="688.66" font-size="29.50" font-weight="400" fill="#222">高</text>
<text x="793.00" y="687.40" font-size="30.00" font-weight="400" fill="#222">低</text>
<text transform="translate(165.18 732.25) scale(0.875 1.000)" font-size="34.50" font-weight="500" fill="#f7f2ee" stroke="#f7f2ee" stroke-width="0.7" stroke-linejoin="round">10</text>
<text transform="translate(202.63 733.57) scale(0.982 1.116)" font-size="32.00" font-weight="500" fill="#f7f2ee" stroke="#f7f2ee" stroke-width="0.3" stroke-linejoin="round">～</text>
<text transform="translate(236.17 732.08) scale(0.843 1.000)" font-size="34.50" font-weight="500" fill="#f7f2ee" stroke="#f7f2ee" stroke-width="0.7" stroke-linejoin="round">15</text>
<text transform="translate(270.42 732.08) scale(0.927 1.000)" font-size="34.50" font-weight="500" fill="#f7f2ee" stroke="#f7f2ee" stroke-width="0.6" stroke-linejoin="round">%</text>
<text transform="translate(414.50 732.25) scale(0.867 1.000)" font-size="34.50" font-weight="500" fill="#f7f2ee" stroke="#f7f2ee" stroke-width="0.7" stroke-linejoin="round">70</text>
<text transform="translate(448.26 732.08) scale(0.898 1.000)" font-size="34.50" font-weight="500" fill="#f7f2ee" stroke="#f7f2ee" stroke-width="0.6" stroke-linejoin="round">%</text>
<text transform="translate(590.66 732.08) scale(0.849 1.000)" font-size="34.50" font-weight="500" fill="#f7f2ee" stroke="#f7f2ee" stroke-width="0.7" stroke-linejoin="round">15</text>
<text transform="translate(627.43 733.57) scale(0.979 1.116)" font-size="32.00" font-weight="500" fill="#f7f2ee" stroke="#f7f2ee" stroke-width="0.3" stroke-linejoin="round">～</text>
<text transform="translate(662.00 732.25) scale(0.867 1.000)" font-size="34.50" font-weight="500" fill="#f7f2ee" stroke="#f7f2ee" stroke-width="0.7" stroke-linejoin="round">20</text>
<text transform="translate(696.74 732.08) scale(0.913 1.000)" font-size="34.50" font-weight="500" fill="#f7f2ee" stroke="#f7f2ee" stroke-width="0.6" stroke-linejoin="round">%</text>
<text transform="translate(378.05 810.72) scale(0.980 1.000)" font-size="31.80" font-weight="400" fill="#222">85</text>
<text transform="translate(416.32 813.57) scale(1.019 1.232)" font-size="29.00" font-weight="400" fill="#222">～</text>
<text transform="translate(449.20 810.72) scale(1.005 1.000)" font-size="31.80" font-weight="400" fill="#222">90</text>
<text transform="translate(485.97 810.56) scale(0.967 1.000)" font-size="31.80" font-weight="400" fill="#222">%</text>
<text x="512.93" y="810.33" font-size="28.50" font-weight="400" fill="#222" letter-spacing="2.20">の土地の価値は</text>
<text x="467.59" y="845.52" font-size="28.50" font-weight="400" fill="#222" letter-spacing="-0.52">下がり続ける</text>
<text x="664.79" y="885.90" font-size="19.20" font-weight="500" fill="#333" letter-spacing="0.39">出所</text>
<text transform="translate(704.08 885.00) scale(1.979 1.101)" font-size="19.20" font-weight="500" fill="#333">:</text>
<text x="714.72" y="886.00" font-size="19.20" font-weight="500" fill="#333" letter-spacing="-1.37">さくら事務所</text>
</g>
</g>
</svg>
</body>
</html>
